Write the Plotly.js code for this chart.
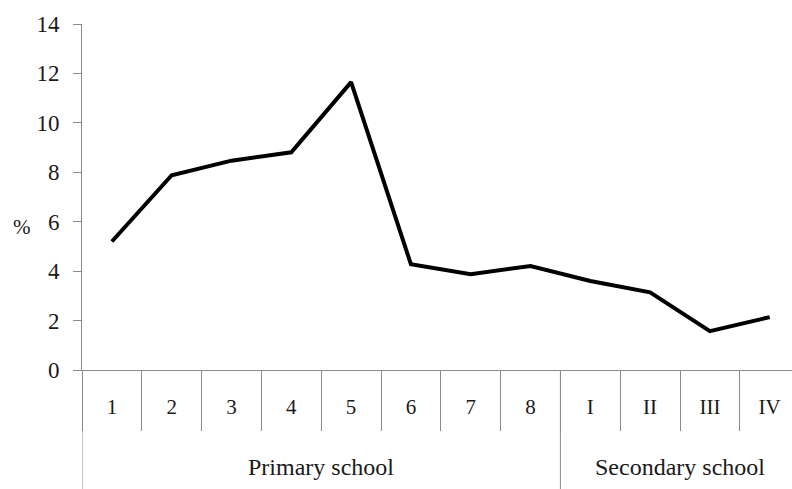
<!DOCTYPE html>
<html>
<head>
<meta charset="utf-8">
<script src="https://cdn.plot.ly/plotly-3.0.1.min.js"></script>
<style>html,body{margin:0;padding:0;background:#fff;}#chart{width:792px;height:489px;}</style>
</head>
<body>
<div id="chart"></div>
<script>
// Data
const categories = ['1','2','3','4','5','6','7','8','I','II','III','IV'];
const values = [5.2, 7.88, 8.47, 8.81, 11.65, 4.28, 3.88, 4.21, 3.6, 3.14, 1.57, 2.14];
const groupNames = ['Primary school', 'Secondary school'];
const groupCounts = [8, 4];
const yTicks = [0, 2, 4, 6, 8, 10, 12, 14];

const FONT = 'Liberation Serif, Times New Roman, serif';
const AXIS_GRAY = '#8a8a8a';
const TEXT = '#1a1a1a';

// group boundaries in category index space
const shapes = [];
const annotations = [];
let start = 0;
const bottomPaper = -119 / 346;
groupNames.forEach((name, i) => {
  const left = start - 0.5;
  const right = start + groupCounts[i] - 0.5;
  shapes.push({type: 'line', xref: 'x', yref: 'paper', x0: left, x1: left, y0: 0, y1: bottomPaper,
               line: {color: AXIS_GRAY, width: 1}});
  annotations.push({text: name, xref: 'x', yref: 'paper', x: (left + right) / 2, y: -0.28,
                    xanchor: 'center', yanchor: 'middle', showarrow: false,
                    font: {family: FONT, size: 24, color: TEXT}});
  start += groupCounts[i];
});
annotations.push({text: '%', xref: 'paper', yref: 'y', x: (22 - 82) / 710, y: 5.8,
                  xanchor: 'center', yanchor: 'middle', showarrow: false,
                  font: {family: FONT, size: 21, color: TEXT}});

const trace = {
  x: categories,
  y: values,
  type: 'scatter',
  mode: 'lines',
  line: {color: '#000000', width: 4},
  hoverinfo: 'skip'
};

const layout = {
  width: 792,
  height: 489,
  margin: {l: 82, r: 0, t: 24, b: 119, pad: 0},
  paper_bgcolor: '#ffffff',
  plot_bgcolor: '#ffffff',
  showlegend: false,
  font: {family: FONT, color: TEXT},
  xaxis: {
    type: 'category',
    range: [-0.5, -0.5 + 710 / 59.8],
    tickson: 'boundaries',
    ticks: 'outside',
    ticklen: 60,
    tickcolor: AXIS_GRAY,
    tickwidth: 1,
    showline: true,
    linecolor: AXIS_GRAY,
    linewidth: 1,
    showgrid: false,
    zeroline: false,
    ticklabelstandoff: 18,
    tickfont: {family: FONT, size: 21, color: TEXT},
    fixedrange: true
  },
  yaxis: {
    range: [0, 14],
    tickvals: yTicks,
    ticktext: yTicks.map(String),
    ticks: 'outside',
    ticklen: 8,
    tickcolor: AXIS_GRAY,
    tickwidth: 1,
    showline: true,
    linecolor: AXIS_GRAY,
    linewidth: 1,
    showgrid: false,
    zeroline: false,
    ticklabelstandoff: 9,
    tickfont: {family: FONT, size: 23, color: TEXT},
    fixedrange: true
  },
  shapes: shapes,
  annotations: annotations
};

Plotly.newPlot('chart', [trace], layout, {displayModeBar: false, staticPlot: true});
</script>
</body>
</html>
